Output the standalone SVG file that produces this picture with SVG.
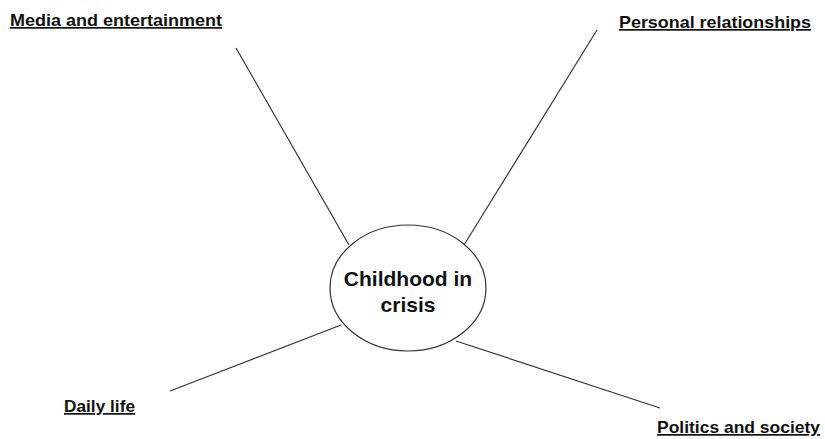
<svg xmlns="http://www.w3.org/2000/svg" width="825" height="439" viewBox="0 0 825 439">
<style>
.lbl{font-family:"Liberation Sans",Arial,sans-serif;font-weight:bold;font-size:17px;fill:#111;text-decoration:underline}
.ctr{font-family:"Liberation Sans",Arial,sans-serif;font-weight:bold;font-size:21px;fill:#111;text-anchor:middle}
.ln{stroke:#333;stroke-width:1.2;fill:none}
</style>
<rect width="825" height="439" fill="#fff"/>
<g id="connectors">
<line class="ln" x1="236" y1="48" x2="349" y2="245"/>
<line class="ln" x1="597" y1="30" x2="464" y2="245"/>
<line class="ln" x1="170" y1="391" x2="341" y2="325"/>
<line class="ln" x1="456" y1="341" x2="660" y2="408"/>
</g>
<g id="center">
<ellipse cx="408" cy="288" rx="78" ry="63" fill="#fff" stroke="#333" stroke-width="1.2"/>
<text class="ctr" x="408" y="286">Childhood in</text>
<text class="ctr" x="408" y="312">crisis</text>
</g>
<g id="media"><text class="lbl" x="10" y="26" textLength="212" lengthAdjust="spacingAndGlyphs">Media and entertainment</text></g>
<g id="personal"><text class="lbl" x="619" y="28" textLength="192" lengthAdjust="spacingAndGlyphs">Personal relationships</text></g>
<g id="daily"><text class="lbl" x="64" y="412" textLength="71" lengthAdjust="spacingAndGlyphs">Daily life</text></g>
<g id="politics"><text class="lbl" x="657" y="433" textLength="163" lengthAdjust="spacingAndGlyphs">Politics and society</text></g>
</svg>
